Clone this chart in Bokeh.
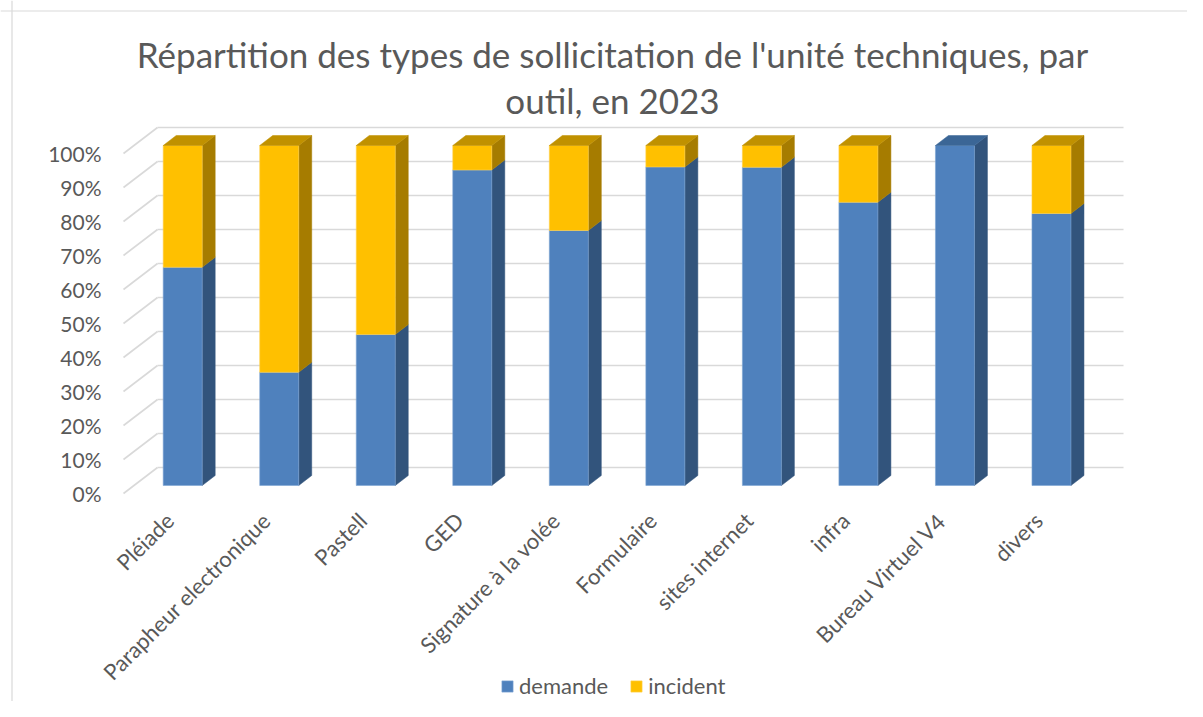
import numpy as np
from bokeh.plotting import figure
from bokeh.models import (Range1d, FixedTicker, PrintfTickFormatter, ColumnDataSource,
                          Legend, LegendItem, Span)
from bokeh.core.properties import value
from bokeh.embed import file_html
from bokeh.resources import INLINE

# ---------------- data ----------------
categories = ["Pléiade", "Parapheur electronique", "Pastell", "GED", "Signature à la volée",
              "Formulaire", "sites internet", "infra", "Bureau Virtuel V4", "divers"]
demande = [64.2, 33.3, 44.4, 92.8, 75.0, 93.7, 93.6, 83.3, 100.0, 80.0]
incident = [35.8, 66.7, 55.6, 7.2, 25.0, 6.3, 6.4, 16.7, 0.0, 20.0]
y_ticks = [0, 10, 20, 30, 40, 50, 60, 70, 80, 90, 100]
series_names = ["demande", "incident"]
title_lines = ["Répartition des types de sollicitation de l'unité techniques, par",
               "outil, en 2023"]

# ---------------- styles ----------------
FONT = "Lato"
TXT = "#595959"
GRID = "#d9d9d9"
FRONT = {"demande": "#4f81bd", "incident": "#ffc000"}
SIDE = {"demande": "#32547c", "incident": "#a67c00"}
TOP = {"demande": "#3b6696", "incident": "#c09100"}

# ---------------- geometry (image px <-> data) ----------------
ORG = 0                   # image px where the figure starts
W, H = 1187, 701
X0, XS = 169.2, 96.53     # image x of category 0 tick, px per category
Y0, YS = 493.0, 3.4       # image y of 0% on front wall plane, px per percent


def px2x(px):
    return (px - X0) / XS


def py2y(py):
    return (Y0 - py) / YS


HW = 19.5 / XS            # bar half width
BAR_SHIFT = 13.0 / XS     # bar front centre relative to tick
BDY = 8.0 / YS            # bar front plane offset above wall front
DDX, DDY = 13.0 / XS, 10.0 / YS   # bar depth
WDX, WDY = 34.0 / XS, 26.0 / YS   # back wall offset from front wall

p = figure(width=W, height=H,
           x_range=Range1d(px2x(ORG), px2x(ORG + W)),
           y_range=Range1d(py2y(ORG + H), py2y(ORG)),
           output_backend="svg", toolbar_location=None, title=None,
           min_border=0, min_border_left=0, min_border_right=0,
           min_border_top=0, min_border_bottom=0)
p.xgrid.visible = False
p.ygrid.visible = False
p.outline_line_color = None
p.background_fill_color = "white"
p.border_fill_color = "white"

# chart border (left & top)
p.add_layout(Span(location=px2x(11.5), dimension="height", line_color=GRID, line_width=1.2))
p.add_layout(Span(location=py2y(10.5), dimension="width", line_color=GRID, line_width=1.2))

# ---------------- walls / gridlines ----------------
n = len(categories)
x_wall_front = px2x(123)
x_wall_back = x_wall_front + WDX
x_right = px2x(1123)
gv = np.array(y_ticks, dtype=float)
p.segment(x0=[x_wall_back] * len(gv), y0=gv + WDY, x1=[x_right] * len(gv), y1=gv + WDY,
          line_color=GRID, line_width=1.6)
p.segment(x0=[x_wall_front] * len(gv), y0=gv, x1=[x_wall_back] * len(gv), y1=gv + WDY,
          line_color=GRID, line_width=1.6)

# ---------------- bars ----------------
dem = np.array(demande, dtype=float)
inc = np.array(incident, dtype=float)
xc = np.arange(n) + BAR_SHIFT
left = xc - HW
right = xc + HW

stacks = {"demande": (np.zeros(n), dem), "incident": (dem, dem + inc)}
front_renderers = {}
for name in series_names:
    b, t = stacks[name]
    keep = (t - b) > 0
    xs, ys = [], []
    for i in np.where(keep)[0]:
        r = right[i]
        xs.append([r, r + DDX, r + DDX, r])
        ys.append([b[i] + BDY, b[i] + BDY + DDY, t[i] + BDY + DDY, t[i] + BDY])
    p.patches(xs=xs, ys=ys, fill_color=SIDE[name], line_color=SIDE[name], line_width=0.5)
    src = ColumnDataSource(dict(left=left[keep], right=right[keep],
                                bottom=b[keep] + BDY, top=t[keep] + BDY))
    front_renderers[name] = p.quad(left="left", right="right", bottom="bottom", top="top",
                                   source=src, fill_color=FRONT[name],
                                   line_color="#7ea4d3" if name == "demande" else "#ffd04d",
                                   line_width=0.6)

xs, ys, cols = [], [], []
for i in range(n):
    top_name = "incident" if inc[i] > 0 else "demande"
    t = stacks[top_name][1][i] + BDY
    xs.append([left[i], right[i], right[i] + DDX, left[i] + DDX])
    ys.append([t, t, t + DDY, t + DDY])
    cols.append(TOP[top_name])
p.patches(xs=xs, ys=ys, fill_color=cols, line_color=cols, line_width=0.5)

# ---------------- title ----------------
p.text(x=[px2x(612)] * 2, y=[py2y(53), py2y(99)], text=title_lines,
       text_align="center", text_baseline="middle",
       text_font=value(FONT), text_font_size="35px", text_color=TXT)

# ---------------- axes ----------------
p.yaxis.fixed_location = x_wall_front
p.yaxis.ticker = FixedTicker(ticks=y_ticks)
p.yaxis.formatter = PrintfTickFormatter(format="%d%%")
p.yaxis.axis_line_color = None
p.yaxis.major_tick_line_color = None
p.yaxis.minor_tick_line_color = None
p.yaxis.major_tick_out = 0
p.yaxis.major_tick_in = 0
p.yaxis.major_label_standoff = 22
p.yaxis.major_label_text_font = FONT
p.yaxis.major_label_text_font_size = "21px"
p.yaxis.major_label_text_color = TXT

p.xaxis.fixed_location = py2y(508)
p.xaxis.ticker = FixedTicker(ticks=list(range(n)))
p.xaxis.major_label_overrides = {i: c for i, c in enumerate(categories)}
p.xaxis.major_label_orientation = np.pi / 4
p.xaxis.axis_line_color = None
p.xaxis.major_tick_line_color = None
p.xaxis.minor_tick_line_color = None
p.xaxis.major_tick_out = 0
p.xaxis.major_tick_in = 0
p.xaxis.major_label_standoff = 8
p.xaxis.major_label_text_font = FONT
p.xaxis.major_label_text_font_size = "22px"
p.xaxis.major_label_text_color = TXT

# ---------------- legend ----------------
legend = Legend(items=[LegendItem(label=nm, renderers=[front_renderers[nm]]) for nm in series_names],
                location=(500 - ORG, 2), orientation="horizontal",
                glyph_width=14, glyph_height=14, label_standoff=5, spacing=21,
                padding=0, margin=0, border_line_color=None, background_fill_alpha=0,
                label_text_font=FONT, label_text_font_size="22px", label_text_color=TXT)
p.add_layout(legend)

open("out.html", "w").write(file_html(p, INLINE))
